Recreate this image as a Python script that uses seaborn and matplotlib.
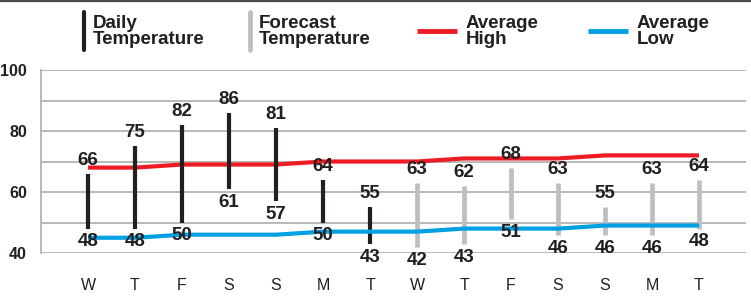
import matplotlib
matplotlib.use("Agg")
import matplotlib.pyplot as plt
import seaborn as sns
import pandas as pd
from matplotlib.lines import Line2D

# ---- data ----
days = ["W", "T", "F", "S", "S", "M", "T", "W", "T", "F", "S", "S", "M", "T"]
daily_high = [66, 75, 82, 86, 81, 64, 55]
daily_low = [48, 48, 50, 61, 57, 50, 43]
forecast_high = [63, 62, 68, 63, 55, 63, 64]
forecast_low = [42, 43, 51, 46, 46, 46, 48]
avg_high = [68, 68, 69, 69, 69, 70, 70, 70, 71, 71, 71, 72, 72, 72]
avg_low = [45, 45, 46, 46, 46, 47, 47, 47, 48, 48, 48, 49, 49, 49]
y_labels = [40, 60, 80, 100]
legend_labels = ["Daily\nTemperature", "Forecast\nTemperature", "Average\nHigh", "Average\nLow"]

# ---- style ----
BLACK = "#231f20"
GRAY = "#bcbec0"
RED = "#ed1c24"
BLUE = "#00a0e3"
GRID = "#b3b3b3"

sns.set_style("white")
plt.rcParams['font.family'] = ['Liberation Sans', 'DejaVu Sans']

W, H = 751, 297
fig = plt.figure(figsize=(W / 100, H / 100), dpi=100)
ax = fig.add_axes([41 / W, 44 / H, 705 / W, 183 / H])

n = len(days)
idx = list(range(n))
df = pd.DataFrame({"i": idx, "day": days, "avg_high": avg_high, "avg_low": avg_low})

# average high line (under bars)
sns.lineplot(data=df, x="i", y="avg_high", color=RED, lw=3.0, ax=ax, zorder=2,
             solid_capstyle="butt")

# range bars
d_idx = idx[:len(daily_high)]
f_idx = idx[len(daily_high):]
ax.vlines(d_idx, daily_low, daily_high, color=BLACK, lw=3.0, zorder=3)
ax.vlines(f_idx, forecast_low, forecast_high, color=GRAY, lw=3.4, zorder=3)

# average low line (over bars)
sns.lineplot(data=df, x="i", y="avg_low", color=BLUE, lw=3.0, ax=ax, zorder=4,
             solid_capstyle="butt")

highs = daily_high + forecast_high
lows = daily_low + forecast_low
for i, (h, l) in enumerate(zip(highs, lows)):
    ax.annotate(str(h), (i, h), xytext=(0, 3.5), textcoords="offset points",
                ha="center", va="bottom", fontsize=13.5, fontweight="bold",
                color=BLACK, zorder=5)
    ax.annotate(str(l), (i, l), xytext=(0, -3.5), textcoords="offset points",
                ha="center", va="top", fontsize=13.5, fontweight="bold",
                color=BLACK, zorder=5)

ax.set_xlim(-1, n)
ax.set_ylim(40, 100)
ax.set_yticks(list(range(40, 101, 10)))
ax.set_yticklabels([str(v) if v in y_labels else "" for v in range(40, 101, 10)],
                   fontsize=11.5, fontweight="bold", color=BLACK)
ax.set_xticks(idx)
ax.set_xticklabels(days, fontsize=11.5, color=BLACK)
ax.tick_params(axis="x", length=0, pad=18)
ax.tick_params(axis="y", length=0, pad=10)
ax.set_xlabel("")
ax.set_ylabel("")
ax.grid(axis="y", color=GRID, lw=1.3, zorder=0)
ax.grid(axis="x", visible=False)
ax.set_axisbelow(True)
for s in ["top", "right", "bottom"]:
    ax.spines[s].set_visible(False)
ax.spines["left"].set_color(GRID)
ax.spines["left"].set_linewidth(1.3)
ax.patch.set_alpha(0)

# ---- legend (figure pixel coords, top-origin) ----
def fx(px):
    return px / W

def fy(py):
    return 1 - py / H

fig.add_artist(Line2D([0, 1], [fy(0.8), fy(0.8)], color="#4d4d4d", lw=1.6,
                      transform=fig.transFigure))

fig.add_artist(Line2D([fx(84), fx(84)], [fy(12), fy(50)], color=BLACK, lw=3.0,
                      transform=fig.transFigure))
fig.add_artist(Line2D([fx(250), fx(250)], [fy(12), fy(50)], color=GRAY, lw=3.4,
                      transform=fig.transFigure))
fig.add_artist(Line2D([fx(417), fx(457)], [fy(31), fy(31)], color=RED, lw=3.5,
                      transform=fig.transFigure, solid_capstyle="butt"))
fig.add_artist(Line2D([fx(588), fx(628)], [fy(31), fy(31)], color=BLUE, lw=3.5,
                      transform=fig.transFigure, solid_capstyle="butt"))

for x, lab in zip([93, 259, 466, 637], legend_labels):
    fig.text(fx(x), fy(31.5), lab, ha="left", va="center", fontsize=13.5,
             fontweight="bold", color=BLACK, linespacing=0.92)

fig.savefig("out.png", dpi=100, facecolor="white")
